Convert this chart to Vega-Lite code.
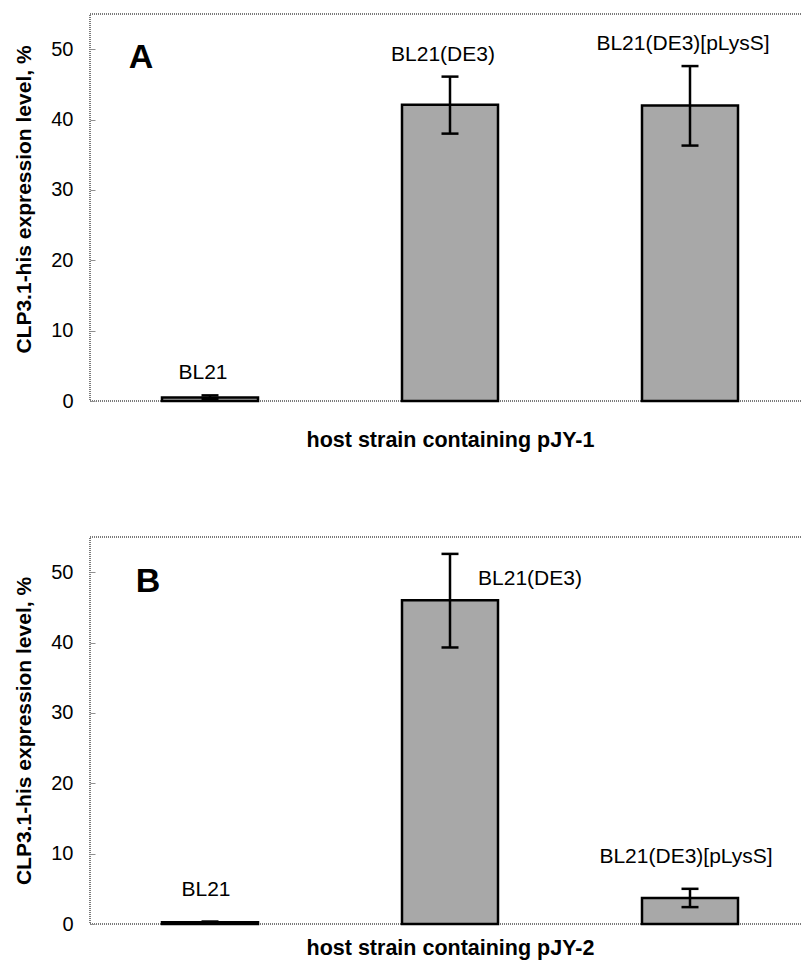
{
  "$schema": "https://vega.github.io/schema/vega-lite/v6.json",
  "padding": {"top": 13, "left": 12, "right": 0, "bottom": 0},
  "background": "white",
  "config": {
    "font": "Liberation Sans",
    "view": {"stroke": "#7a7a7a", "strokeWidth": 2, "strokeDash": [1, 1]},
    "axis": {"grid": false, "domain": false, "labelColor": "black", "titleColor": "black"},
    "text": {"font": "Liberation Sans", "fontSize": 21, "color": "black"}
  },
  "datasets": {
    "pjy1": [
      {"strain": "BL21", "value": 0.5, "lo": 0.3, "hi": 0.8},
      {"strain": "BL21(DE3)", "value": 42.1, "lo": 38.0, "hi": 46.1},
      {"strain": "BL21(DE3)[pLysS]", "value": 42.0, "lo": 36.3, "hi": 47.6}
    ],
    "pjy2": [
      {"strain": "BL21", "value": 0.25, "lo": 0.15, "hi": 0.35},
      {"strain": "BL21(DE3)", "value": 46.0, "lo": 39.3, "hi": 52.6},
      {"strain": "BL21(DE3)[pLysS]", "value": 3.7, "lo": 2.4, "hi": 5.0}
    ]
  },
  "spacing": 84,
  "vconcat": [
    {
      "width": 720,
      "height": 387,
      "data": {"name": "pjy1"},
      "encoding": {
        "x": {
          "field": "strain", "type": "nominal", "sort": null,
          "scale": {"paddingInner": 0.6, "paddingOuter": 0.3},
          "axis": {"labels": false, "ticks": false, "title": "host strain containing pJY-1", "titleFontSize": 21.5, "titleFontWeight": "bold", "titlePadding": 28}
        }
      },
      "layer": [
        {
          "mark": {"type": "bar", "fill": "#a8a8a8", "stroke": "black", "strokeWidth": 2.5},
          "encoding": {
            "y": {
              "field": "value", "type": "quantitative",
              "scale": {"domain": [0, 55], "nice": false},
              "axis": {"values": [0, 10, 20, 30, 40, 50], "title": "CLP3.1-his expression level, %", "titleFontSize": 21, "titleFontWeight": "bold", "titlePadding": 16, "titleY": 185, "labelFontSize": 20, "tickSize": -5, "tickColor": "#909090", "labelPadding": 22}
            }
          }
        },
        {
          "mark": {"type": "rule", "color": "black", "strokeWidth": 2.5},
          "encoding": {"y": {"field": "lo", "type": "quantitative"}, "y2": {"field": "hi"}}
        },
        {
          "mark": {"type": "tick", "color": "black", "size": 17, "thickness": 2.5, "opacity": 1},
          "encoding": {"y": {"field": "lo", "type": "quantitative"}}
        },
        {
          "mark": {"type": "tick", "color": "black", "size": 17, "thickness": 2.5, "opacity": 1},
          "encoding": {"y": {"field": "hi", "type": "quantitative"}}
        },
        {
          "mark": {"type": "text", "baseline": "bottom", "dy": -12, "dx": -7},
          "encoding": {"y": {"field": "hi", "type": "quantitative"}, "text": {"field": "strain"}}
        },
        {
          "data": {"values": [{"letter": "A"}]},
          "mark": {"type": "text", "fontSize": 34, "fontWeight": "bold", "dx": -69},
          "encoding": {
            "x": {"datum": "BL21", "type": "nominal"},
            "y": {"datum": 48.8, "type": "quantitative"},
            "text": {"field": "letter"}
          }
        }
      ]
    },
    {
      "width": 720,
      "height": 387,
      "data": {"name": "pjy2"},
      "encoding": {
        "x": {
          "field": "strain", "type": "nominal", "sort": null,
          "scale": {"paddingInner": 0.6, "paddingOuter": 0.3},
          "axis": {"labels": false, "ticks": false, "title": "host strain containing pJY-2", "titleFontSize": 21.5, "titleFontWeight": "bold", "titlePadding": 13}
        }
      },
      "layer": [
        {
          "mark": {"type": "bar", "fill": "#a8a8a8", "stroke": "black", "strokeWidth": 2.5},
          "encoding": {
            "y": {
              "field": "value", "type": "quantitative",
              "scale": {"domain": [0, 55], "nice": false},
              "axis": {"values": [0, 10, 20, 30, 40, 50], "title": "CLP3.1-his expression level, %", "titleFontSize": 21, "titleFontWeight": "bold", "titlePadding": 16, "labelFontSize": 20, "tickSize": -5, "tickColor": "#909090", "labelPadding": 22}
            }
          }
        },
        {
          "mark": {"type": "rule", "color": "black", "strokeWidth": 2.5},
          "encoding": {"y": {"field": "lo", "type": "quantitative"}, "y2": {"field": "hi"}}
        },
        {
          "mark": {"type": "tick", "color": "black", "size": 17, "thickness": 2.5, "opacity": 1},
          "encoding": {"y": {"field": "lo", "type": "quantitative"}}
        },
        {
          "mark": {"type": "tick", "color": "black", "size": 17, "thickness": 2.5, "opacity": 1},
          "encoding": {"y": {"field": "hi", "type": "quantitative"}}
        },
        {
          "transform": [{"filter": "datum.strain !== 'BL21(DE3)'"}],
          "mark": {"type": "text", "baseline": "bottom", "dy": -22, "dx": -4},
          "encoding": {"y": {"field": "hi", "type": "quantitative"}, "text": {"field": "strain"}}
        },
        {
          "transform": [{"filter": "datum.strain === 'BL21(DE3)'"}],
          "mark": {"type": "text", "baseline": "middle", "dx": 80, "dy": -21},
          "encoding": {"y": {"field": "value", "type": "quantitative"}, "text": {"field": "strain"}}
        },
        {
          "data": {"values": [{"letter": "B"}]},
          "mark": {"type": "text", "fontSize": 34, "fontWeight": "bold", "dx": -62},
          "encoding": {
            "x": {"datum": "BL21", "type": "nominal"},
            "y": {"datum": 48.6, "type": "quantitative"},
            "text": {"field": "letter"}
          }
        }
      ]
    }
  ]
}
